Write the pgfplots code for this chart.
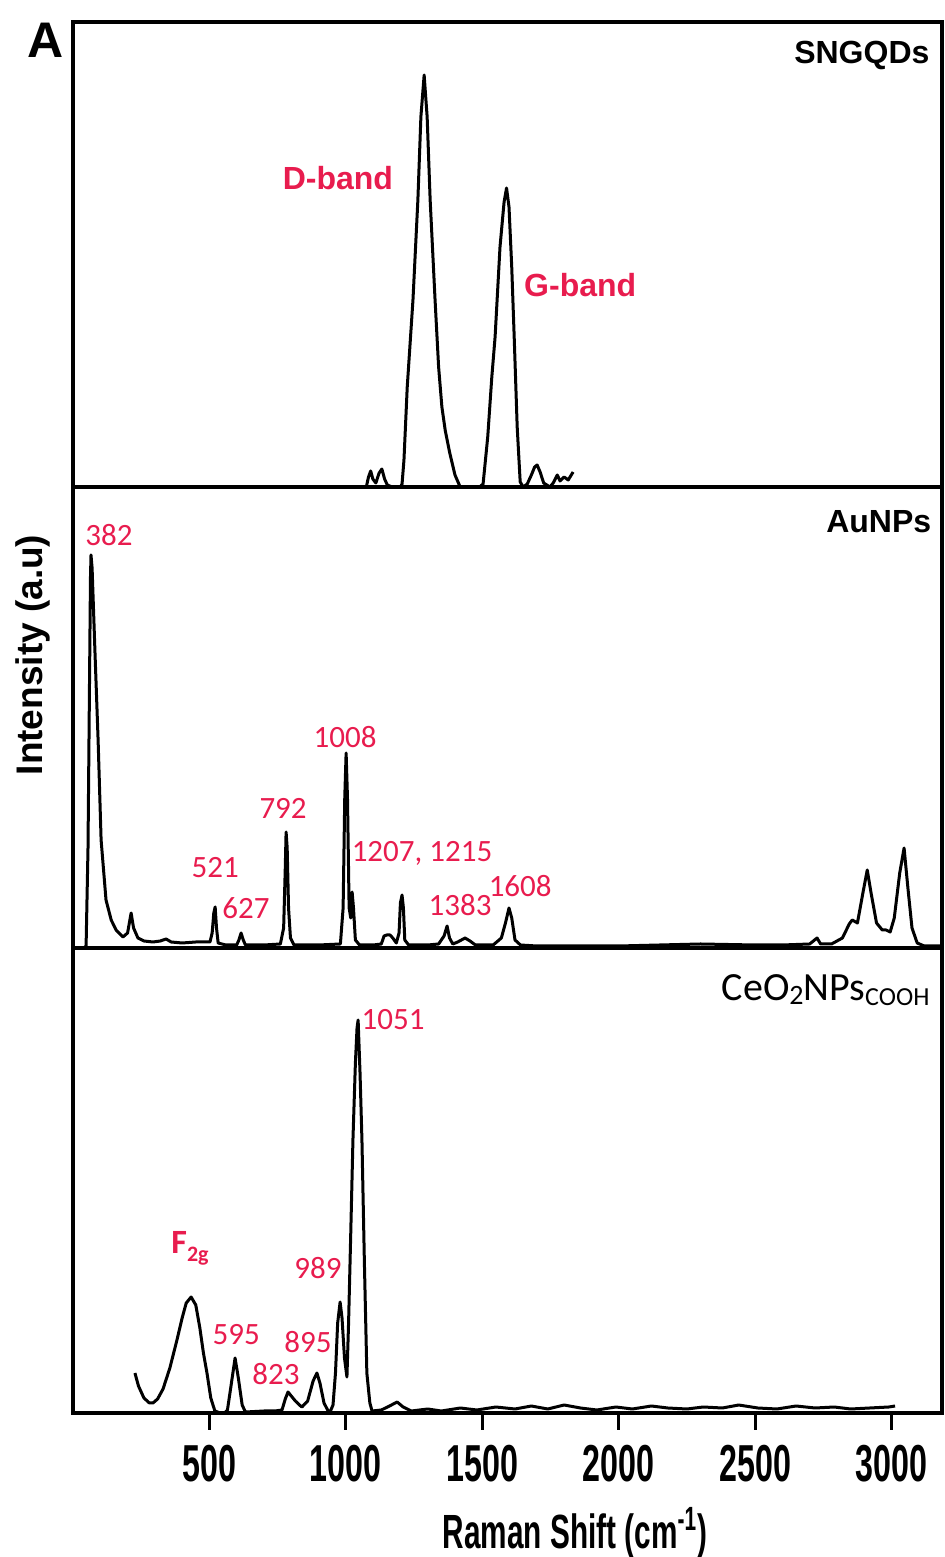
\documentclass[border=0pt]{standalone}
\usepackage{fontspec}
\setmainfont{Liberation Sans}
\newfontfamily\narrowfont[FakeStretch=0.62]{Liberation Sans}
\newfontfamily\calfont{Carlito}
\usepackage{pgfplots}
\pgfplotsset{compat=1.18}
\definecolor{lblred}{RGB}{232,28,78}

\pgfplotsset{
  panel/.style={
    scale only axis,
    width=434.5pt,
    xmin=0, xmax=3185,
    ymin=0,
    axis line style={line width=2pt, line cap=rect},
    ytick=\empty,
    xtick=\empty,
    anchor=south west,
  },
}
\tikzset{
  spec/.style={black, line width=1.5pt, line join=round},
  peak/.style={text=lblred, font=\calfont\fontsize{15.5}{16}\selectfont, inner sep=0pt},
  band/.style={text=lblred, font=\bfseries\fontsize{16}{16}\selectfont, inner sep=0pt},
  sample/.style={font=\bfseries\fontsize{16}{16}\selectfont, inner sep=0pt, anchor=east},
}

\begin{document}
\begin{tikzpicture}

% ---- bottom panel: CeO2NPs-COOH ----
\begin{axis}[panel, at={(0,0)}, height=232.5pt, ymax=465,
    xtick={500,1000,1500,2000,2500,3000},
    xtick pos=bottom,
    tick align=outside,
    major tick length=8.5pt,
    tick style={line width=1.5pt, black},
    scaled x ticks=false,
    x tick label style={
      font=\narrowfont\bfseries\fontsize{26}{26}\selectfont,
      /pgf/number format/.cd, assume math mode=true, 1000 sep={},
      /tikz/.cd, yshift=-4pt},
  ]
  \addplot[spec, mark=none] table {
  227 40
  240 27
  260 15
  280 10
  293 10
  310 14
  330 24
  355 45
  381 73
  400 95
  415 110
  433 116
  450 108
  465 85
  478 60
  491 40
  505 15
  520 2
  540 0
  555 0
  566 3
  578 25
  594 55
  606 35
  620 8
  632 1
  700 2
  740 2
  766 3
  778 14
  788 21
  800 17
  815 12
  830 8
  839 6
  860 12
  880 32
  894 40
  905 30
  920 10
  935 2
  942 1
  953 8
  962 40
  970 90
  979 111
  986 95
  995 55
  1004 36
  1010 90
  1018 180
  1026 273
  1035 350
  1041 385
  1045 393
  1052 340
  1059 273
  1068 150
  1077 40
  1088 10
  1096 2
  1130 3
  1160 7
  1188 11
  1210 6
  1240 2
  1300 4
  1350 2
  1420 5
  1480 3
  1550 6
  1620 4
  1680 7
  1740 4
  1800 8
  1860 5
  1920 3
  1990 6
  2050 4
  2120 7
  2180 5
  2250 4
  2310 6
  2380 5
  2440 8
  2510 5
  2580 4
  2650 7
  2720 5
  2790 6
  2850 4
  2920 5
  2990 6
  3013 7
  };
  \node[sample] at (rel axis cs:0.986,0.91) {\calfont\mdseries\fontsize{20}{20}\selectfont CeO\raisebox{-2pt}{\fontsize{14}{14}\selectfont 2}NPs\raisebox{-2.5pt}{\fontsize{13}{13}\selectfont COOH}};
  \node[peak] at (axis cs:1173,393) {1051};
  \node[text=lblred, font=\calfont\bfseries\fontsize{17}{17}\selectfont, inner sep=0pt] at (axis cs:429,165) {F\raisebox{-4pt}{\fontsize{11}{11}\selectfont 2g}};
  \node[peak] at (axis cs:898,145) {989};
  \node[peak] at (axis cs:598,78) {595};
  \node[peak] at (axis cs:861,71) {895};
  \node[peak] at (axis cs:744,39) {823};
\end{axis}

% ---- middle panel: AuNPs ----
\begin{axis}[panel, at={(0,232.5pt)}, height=230.5pt, ymax=461]
  \addplot[spec, mark=none] table {
  40 0
  48 2
  55 100
  60 250
  64 370
  66 393
  70 380
  80 300
  92 208
  103 108
  121 48
  140 28
  158 18
  183 11
  200 15
  213 35
  222 20
  238 10
  260 7
  293 6
  320 7
  341 9
  360 6
  400 5
  450 6
  502 6
  510 15
  516 35
  521 41
  526 20
  532 5
  560 3
  600 3
  608 8
  616 15
  624 8
  632 3
  700 3
  760 4
  772 20
  778 80
  781 116
  785 100
  790 40
  797 10
  810 3
  900 3
  980 4
  990 40
  996 150
  1001 195
  1006 150
  1012 40
  1018 30
  1023 56
  1028 40
  1035 8
  1050 3
  1100 3
  1130 4
  1140 12
  1150 13
  1162 13
  1172 10
  1185 5
  1195 15
  1200 45
  1206 53
  1211 40
  1216 8
  1230 3
  1300 3
  1340 4
  1360 12
  1371 22
  1380 10
  1392 4
  1410 6
  1437 10
  1455 7
  1475 3
  1540 3
  1570 10
  1585 25
  1598 40
  1608 30
  1620 8
  1640 3
  1700 2
  2000 2
  2300 4
  2500 3
  2600 3
  2700 4
  2727 10
  2740 4
  2780 4
  2820 10
  2845 24
  2856 28
  2875 25
  2895 55
  2911 78
  2925 55
  2945 25
  2966 18
  2980 18
  2995 16
  3010 30
  3030 75
  3046 100
  3060 60
  3075 20
  3094 5
  3120 2
  3185 2
  };
  \node[sample] at (rel axis cs:0.988,0.924) {AuNPs};
  \node[peak] at (axis cs:132,413) {382};
  \node[peak] at (axis cs:997,211) {1008};
  \node[peak] at (axis cs:770,140) {792};
  \node[peak] at (axis cs:521,80) {521};
  \node[peak] at (axis cs:634,40) {627};
  \node[peak] at (axis cs:1279,95) {1207, 1215};
  \node[peak] at (axis cs:1419,43) {1383};
  \node[peak] at (axis cs:1639,62) {1608};
\end{axis}

% ---- top panel: SNGQDs ----
\begin{axis}[panel, at={(0,463pt)}, height=232.5pt, ymax=465]
  \addplot[spec, mark=none] table {
  1075 0
  1083 10
  1091 16
  1099 8
  1110 4
  1122 14
  1132 18
  1142 8
  1152 2
  1170 0
  1200 0
  1206 3
  1213 27
  1225 100
  1246 187
  1264 287
  1275 370
  1287 412
  1298 370
  1309 287
  1327 187
  1340 120
  1352 80
  1364 57
  1380 35
  1400 12
  1419 0
  1490 0
  1503 3
  1520 50
  1535 110
  1547 150
  1565 240
  1580 285
  1589 299
  1598 280
  1608 220
  1617 150
  1628 60
  1639 5
  1650 0
  1665 3
  1680 12
  1692 20
  1701 22
  1712 15
  1725 4
  1748 0
  1760 4
  1775 12
  1785 6
  1800 10
  1815 7
  1833 15
  };
  \node[sample] at (rel axis cs:0.986,0.929) {SNGQDs};
  \node[band] at (axis cs:971,309) {D-band};
  \node[band] at (axis cs:1859,202) {G-band};
\end{axis}

% ---- outer labels ----
\node[font=\bfseries\fontsize{25}{25}\selectfont, inner sep=0pt] at (-13.5pt,686.5pt) {A};
\node[font=\bfseries\fontsize{18.5}{18.5}\selectfont, rotate=90, anchor=base, inner sep=0pt] at (-15.5pt,379pt) {Intensity (a.u)};
\node[font=\narrowfont\bfseries\fontsize{24}{24}\selectfont, inner sep=0pt] at (251pt,-60pt) {Raman Shift (cm\textsuperscript{-1})};

\pgfresetboundingbox
\path (-36.5pt,-72pt) rectangle (435.5pt,706.5pt);
\end{tikzpicture}
\end{document}
